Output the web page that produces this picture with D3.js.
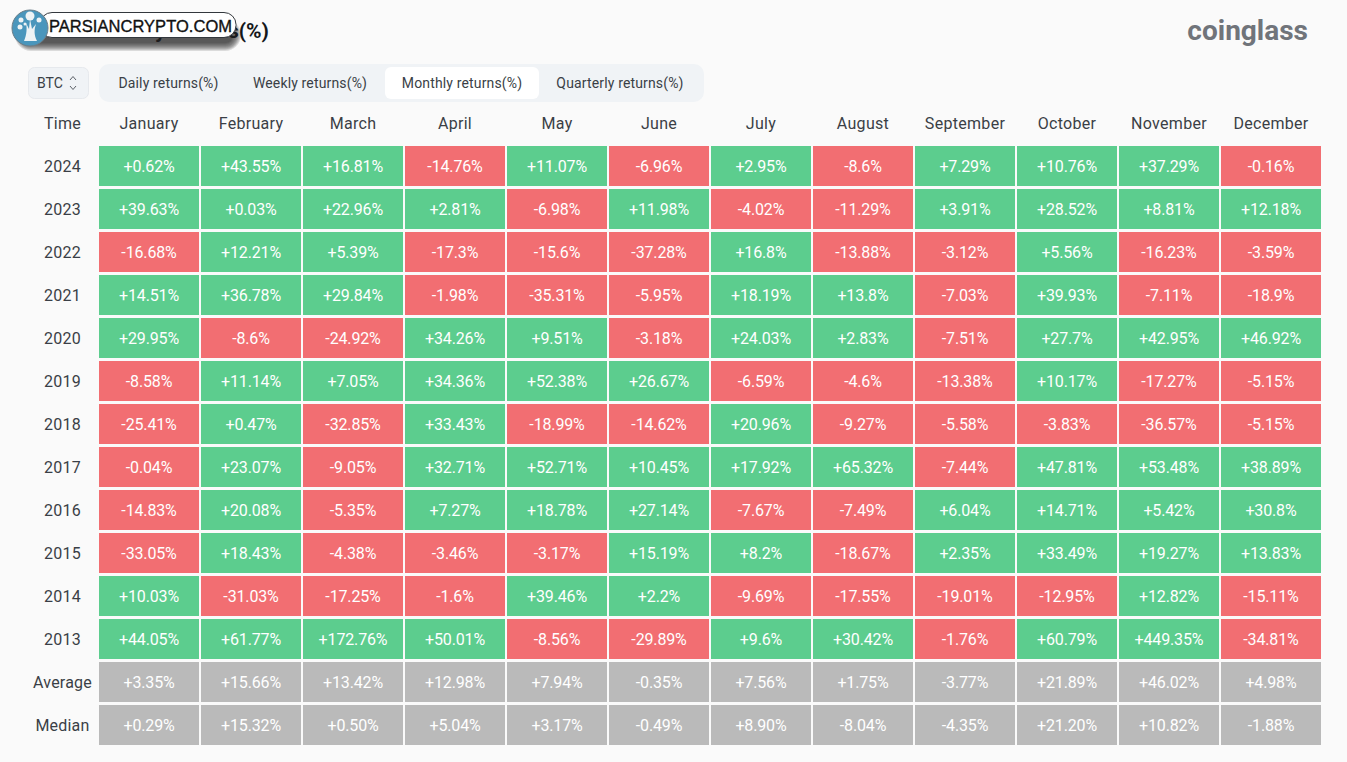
<!DOCTYPE html>
<html>
<head>
<meta charset="utf-8">
<script src="https://cdn.jsdelivr.net/npm/d3@7"></script>
<style>
  html, body { margin: 0; padding: 0; background: #fafafa; overflow: hidden; }
  svg text { font-family: Roboto, "Noto Sans", sans-serif; }
</style>
</head>
<body>
<svg id="chart" width="1347" height="762"></svg>
<script>
var months = ["January","February","March","April","May","June","July","August","September","October","November","December"];
var tabs = ["Daily returns(%)","Weekly returns(%)","Monthly returns(%)","Quarterly returns(%)"];
var rowNames = ["2024","2023","2022","2021","2020","2019","2018","2017","2016","2015","2014","2013","Average","Median"];

var r2024 = [0.62,43.55,16.81,-14.76,11.07,-6.96,2.95,-8.6,7.29,10.76,37.29,-0.16];
var r2023 = [39.63,0.03,22.96,2.81,-6.98,11.98,-4.02,-11.29,3.91,28.52,8.81,12.18];
var r2022 = [-16.68,12.21,5.39,-17.3,-15.6,-37.28,16.8,-13.88,-3.12,5.56,-16.23,-3.59];
var r2021 = [14.51,36.78,29.84,-1.98,-35.31,-5.95,18.19,13.8,-7.03,39.93,-7.11,-18.9];
var r2020 = [29.95,-8.6,-24.92,34.26,9.51,-3.18,24.03,2.83,-7.51,27.7,42.95,46.92];
var r2019 = [-8.58,11.14,7.05,34.36,52.38,26.67,-6.59,-4.6,-13.38,10.17,-17.27,-5.15];
var r2018 = [-25.41,0.47,-32.85,33.43,-18.99,-14.62,20.96,-9.27,-5.58,-3.83,-36.57,-5.15];
var r2017 = [-0.04,23.07,-9.05,32.71,52.71,10.45,17.92,65.32,-7.44,47.81,53.48,38.89];
var r2016 = [-14.83,20.08,-5.35,7.27,18.78,27.14,-7.67,-7.49,6.04,14.71,5.42,30.8];
var r2015 = [-33.05,18.43,-4.38,-3.46,-3.17,15.19,8.2,-18.67,2.35,33.49,19.27,13.83];
var r2014 = [10.03,-31.03,-17.25,-1.6,39.46,2.2,-9.69,-17.55,-19.01,-12.95,12.82,-15.11];
var r2013 = [44.05,61.77,172.76,50.01,-8.56,-29.89,9.6,30.42,-1.76,60.79,449.35,-34.81];
var average = [3.35,15.66,13.42,12.98,7.94,-0.35,7.56,1.75,-3.77,21.89,46.02,4.98];
var median = [0.29,15.32,0.50,5.04,3.17,-0.49,8.90,-8.04,-4.35,21.20,10.82,-1.88];

var rows = [r2024,r2023,r2022,r2021,r2020,r2019,r2018,r2017,r2016,r2015,r2014,r2013,average,median];

var GREEN = "#5ccd8e", RED = "#f26e72", GREY = "#bababa", INK = "#3a3f46";

var svg = d3.select("#chart");

// table scales
var x = d3.scaleBand().domain(months).range([99, 1321]).paddingInner(0.0196);
var y = d3.scaleBand().domain(rowNames).range([146, 745]).paddingInner(0.07);

function fmt(v, name) {
  var s = (name == "Median" || name == "Average") ? v.toFixed(2) : String(v);
  return (v >= 0 ? "+" : "") + s + "%";
}

// title, mostly covered by the watermark later on
svg.append("text").attr("x", 269).attr("y", 38).attr("text-anchor", "end")
  .attr("font-size", 21).attr("font-weight", 700).attr("fill", "#15171a")
  .text("Monthly returns(%)");

// coinglass logo text
svg.append("text").attr("x", 1308).attr("y", 40).attr("text-anchor", "end")
  .attr("font-size", 28).attr("font-weight", 700).attr("fill", "#70747a")
  .text("coinglass");

// coin selector
svg.append("rect").attr("x", 28.5).attr("y", 67.5).attr("width", 60).attr("height", 31).attr("rx", 6)
  .attr("fill", "#f0f3f6").attr("stroke", "#e6e9ed");
svg.append("text").attr("x", 37).attr("y", 88).attr("font-size", 14).attr("fill", INK).text("BTC");
svg.append("path").attr("d", "M70 80l3-3.5l3 3.5M70 86l3 3.5l3-3.5")
  .attr("fill", "none").attr("stroke", "#5c6168").attr("stroke-width", 1);

// tabs
svg.append("rect").attr("x", 99).attr("y", 64).attr("width", 605).attr("height", 38).attr("rx", 10).attr("fill", "#f0f3f6");
svg.append("rect").attr("x", 385).attr("y", 67).attr("width", 154).attr("height", 32).attr("rx", 6).attr("fill", "#ffffff");
svg.selectAll(".tab").data(tabs).enter().append("text")
  .attr("class", "tab")
  .attr("x", (d, i) => [168.5, 310, 462, 620][i])
  .attr("y", 88).attr("text-anchor", "middle").attr("font-size", 14)
  .attr("letter-spacing", 0.15).attr("fill", INK)
  .text(d => d);

// header row
svg.append("text").attr("x", 62.5).attr("y", 129).attr("text-anchor", "middle")
  .attr("font-size", 16).attr("letter-spacing", 0.3).attr("fill", INK).text("Time");
svg.selectAll(".month").data(months).enter().append("text")
  .attr("class", "month")
  .attr("x", d => x(d) + x.bandwidth() / 2)
  .attr("y", 129).attr("text-anchor", "middle").attr("font-size", 16)
  .attr("letter-spacing", 0.3).attr("fill", INK)
  .text(d => d);

// row labels
svg.selectAll(".rowName").data(rowNames).enter().append("text")
  .attr("class", "rowName")
  .attr("x", 62.5)
  .attr("y", d => y(d) + y.bandwidth() / 2 + 6)
  .attr("text-anchor", "middle").attr("font-size", 16).attr("letter-spacing", 0.2).attr("fill", INK)
  .text(d => d);

// cells
var cells = [];
rows.forEach((vals, i) => {
  vals.forEach((v, j) => {
    cells.push({ row: rowNames[i], month: months[j], value: v });
  });
});

svg.selectAll(".cell").data(cells).enter().append("rect")
  .attr("class", "cell")
  .attr("x", d => x(d.month))
  .attr("y", d => y(d.row))
  .attr("width", x.bandwidth())
  .attr("height", y.bandwidth())
  .attr("fill", d => {
    if (d.row == "Average" || d.row == "Median") return GREY;
    return d.value >= 0 ? GREEN : RED;
  });

svg.selectAll(".cellText").data(cells).enter().append("text")
  .attr("class", "cellText")
  .attr("x", d => x(d.month) + x.bandwidth() / 2)
  .attr("y", d => y(d.row) + y.bandwidth() / 2 + 6)
  .attr("text-anchor", "middle").attr("font-size", 16).attr("letter-spacing", -0.15).attr("fill", "#ffffff")
  .text(d => fmt(d.value, d.row));

// watermark, soft shadow built from stacked see-through pills
svg.selectAll(".shade").data(d3.range(9, 0, -1)).enter().append("rect")
  .attr("class", "shade")
  .attr("x", d => 24 - d)
  .attr("y", d => 28 - d)
  .attr("width", d => 208 + 2 * d)
  .attr("height", d => 14 + 2 * d)
  .attr("rx", d => 7 + d)
  .attr("fill", "#222").attr("opacity", 0.14);
svg.append("rect").attr("x", 40).attr("y", 12.5).attr("width", 196).attr("height", 25).attr("rx", 12)
  .attr("fill", "#ffffff").attr("stroke", "#33383d");
svg.append("text").attr("x", 49).attr("y", 32).attr("font-size", 16.5)
  .attr("fill", "#111").attr("stroke", "#111").attr("stroke-width", 0.35).style("font-family", "Liberation Sans")
  .attr("textLength", 183).text("PARSIANCRYPTO.COM");
svg.append("circle").attr("cx", 30).attr("cy", 28).attr("r", 18).attr("fill", "#4a96bc").attr("stroke", "#6a7d88");
svg.append("path").attr("d", "M24 41C27 34 27 28 26 23L29 29L30 19L32 29L36 24C34 30 34 35 37 41Z").attr("fill", "#eef3f5");
svg.selectAll(".dot").data([[30, 16, 4.5], [21, 20, 2.5], [39, 20, 2.5], [20, 27, 2.5], [25, 24, 1.5]]).enter().append("circle")
  .attr("class", "dot").attr("cx", d => d[0]).attr("cy", d => d[1]).attr("r", d => d[2]).attr("fill", "#eef3f5");
</script>
</body>
</html>
